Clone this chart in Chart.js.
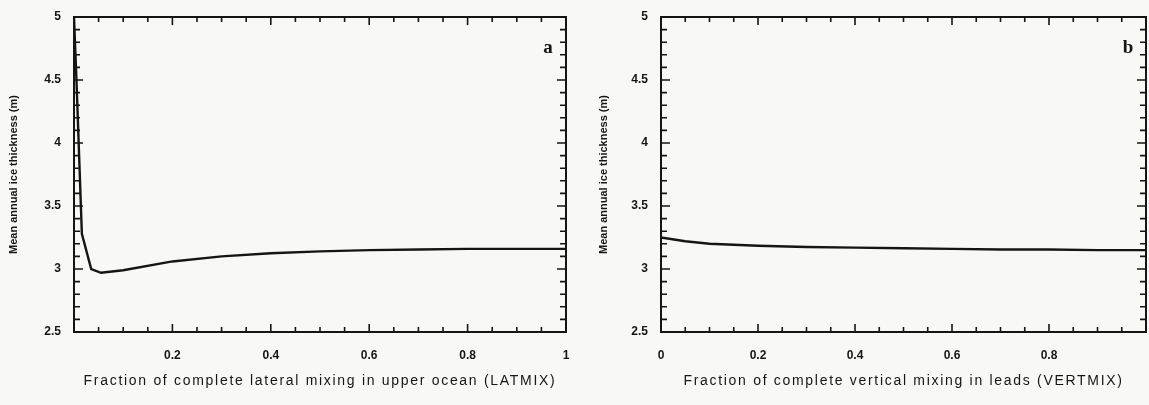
<!DOCTYPE html>
<html>
<head>
<meta charset="utf-8">
<script src="https://cdn.jsdelivr.net/npm/chart.js@4.4.1/dist/chart.umd.min.js"></script>
<style>
  body { margin: 0; background: #f8f9f7; }
  #wrap { position: relative; width: 1149px; height: 405px; overflow: hidden; }
  .panel { position: absolute; top: 0; height: 405px; }
  #panelA { left: 0; width: 590px; }
  #panelB { left: 590px; width: 559px; }
</style>
</head>
<body>
<div id="wrap">
  <div class="panel" id="panelA"><canvas id="chartA"></canvas></div>
  <div class="panel" id="panelB"><canvas id="chartB"></canvas></div>
</div>
<script>
// panel a : lateral mixing in upper ocean
const latmixX   = [0, 0.005, 0.016, 0.035, 0.055, 0.1, 0.2, 0.3, 0.4, 0.5, 0.6, 0.7, 0.8, 0.9, 1.0];
const latmixIce = [5.0, 4.5, 3.28, 3.0, 2.97, 2.99, 3.06, 3.1, 3.125, 3.14, 3.15, 3.155, 3.16, 3.16, 3.16];

// panel b : vertical mixing in leads
const vertmixX   = [0, 0.05, 0.1, 0.2, 0.3, 0.4, 0.5, 0.6, 0.7, 0.8, 0.9, 1.0];
const vertmixIce = [3.25, 3.22, 3.2, 3.185, 3.175, 3.17, 3.165, 3.16, 3.155, 3.155, 3.15, 3.15];

// axis ranges / tick steps
const xRange = [0, 1];
const xTickStep = 0.2, xMinorStep = 0.05;
const yRange = [2.5, 5];
const yTickStep = 0.5, yMinorStep = 0.1;

const yTitle = "Mean annual ice thickness (m)";
const xTitleA = "Fraction of complete lateral mixing in upper ocean (LATMIX)";
const xTitleB = "Fraction of complete vertical mixing in leads (VERTMIX)";

const ink = "#151515";
const sans = "'Liberation Sans', Arial, sans-serif";

function fmt(v) { return String(Number(v.toFixed(2))); }

// frame, inward ticks on all four sides and the panel letter
const frameTicks = {
  id: "frameTicks",
  beforeDraw(chart) {
    // the scanned figure has widely tracked x titles
    const sx = chart.scales.x;
    if (sx && !sx._tracked) {
      const orig = sx.drawTitle;
      sx.drawTitle = function () {
        this.ctx.save();
        this.ctx.letterSpacing = "1.7px";
        orig.call(this);
        this.ctx.restore();
      };
      sx._tracked = true;
    }
  },
  afterDatasetsDraw(chart, args, opts) {
    const ctx = chart.ctx, a = chart.chartArea;
    const x = chart.scales.x, y = chart.scales.y;
    ctx.save();
    ctx.strokeStyle = ink;
    ctx.lineWidth = 2;
    ctx.strokeRect(a.left, a.top, a.right - a.left, a.bottom - a.top);
    ctx.lineWidth = 1.6;
    ctx.beginPath();
    const nx = Math.round((xRange[1] - xRange[0]) / xMinorStep);
    const perX = Math.round(xTickStep / xMinorStep);
    for (let i = 0; i <= nx; i++) {
      const px = x.getPixelForValue(xRange[0] + i * xMinorStep);
      const len = i % perX === 0 ? 8 : 5;
      ctx.moveTo(px, a.bottom); ctx.lineTo(px, a.bottom - len);
      ctx.moveTo(px, a.top); ctx.lineTo(px, a.top + len);
    }
    const ny = Math.round((yRange[1] - yRange[0]) / yMinorStep);
    const perY = Math.round(yTickStep / yMinorStep);
    for (let i = 0; i <= ny; i++) {
      const py = y.getPixelForValue(yRange[0] + i * yMinorStep);
      const len = i % perY === 0 ? 9 : 6;
      ctx.moveTo(a.left, py); ctx.lineTo(a.left + len, py);
      ctx.moveTo(a.right, py); ctx.lineTo(a.right - len, py);
    }
    ctx.stroke();
    ctx.fillStyle = ink;
    ctx.font = "bold 19px 'Liberation Serif', 'DejaVu Serif', serif";
    ctx.textAlign = "center";
    ctx.textBaseline = "middle";
    ctx.fillText(opts.letter, a.right - 18, a.top + 31);
    ctx.restore();
  }
};

function makeChart(id, xs, ys, xTitle, letter, plotLeft, padRight, hidden) {
  const pts = xs.map(function (v, i) { return { x: v, y: ys[i] }; });
  return new Chart(document.getElementById(id), {
    type: "line",
    data: {
      datasets: [{
        data: pts,
        borderColor: ink,
        borderWidth: 2.4,
        pointRadius: 0,
        tension: 0,
        fill: false
      }]
    },
    options: {
      responsive: true,
      maintainAspectRatio: false,
      animation: false,
      layout: { padding: { top: 17, right: padRight, bottom: 0, left: 0 } },
      plugins: {
        legend: { display: false },
        tooltip: { enabled: false },
        frameTicks: { letter: letter }
      },
      scales: {
        x: {
          type: "linear",
          min: xRange[0], max: xRange[1],
          grid: { display: false, drawTicks: false },
          border: { display: false },
          ticks: {
            stepSize: xTickStep,
            padding: 16,
            color: ink,
            font: { family: sans, size: 12, weight: "bold" },
            callback: function (v) {
              if (hidden.some(function (h) { return Math.abs(h - v) < 1e-9; })) return "";
              return fmt(v);
            }
          },
          title: {
            display: true,
            text: xTitle,
            color: ink,
            font: { family: sans, size: 14 },
            padding: { top: 0, bottom: 15 }
          },
          afterFit: function (s) { s.height = 73; s.paddingLeft = 0; s.paddingRight = 0; }
        },
        y: {
          type: "linear",
          min: yRange[0], max: yRange[1],
          grid: { display: false, drawTicks: false },
          border: { display: false },
          ticks: {
            stepSize: yTickStep,
            padding: 13,
            color: ink,
            font: { family: sans, size: 12, weight: "bold" },
            callback: function (v) { return fmt(v); }
          },
          title: {
            display: true,
            text: yTitle,
            color: ink,
            font: { family: sans, size: 11, weight: "bold" },
            padding: { top: 7, bottom: 0 }
          },
          afterFit: function (s) { s.width = plotLeft; s.paddingTop = 0; s.paddingBottom = 0; }
        }
      }
    },
    plugins: [frameTicks]
  });
}

makeChart("chartA", latmixX, latmixIce, xTitleA, "a", 74, 24, [0]);
makeChart("chartB", vertmixX, vertmixIce, xTitleB, "b", 71, 3, [1]);
</script>
</body>
</html>
